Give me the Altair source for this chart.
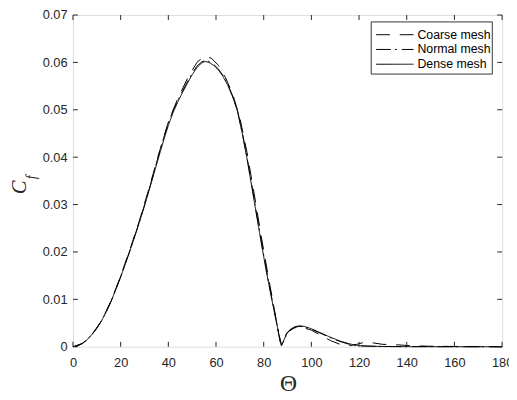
import altair as alt
import pandas as pd

# ---------------- data ----------------
series_names = ["Coarse mesh", "Normal mesh", "Dense mesh"]

theta_dense = [0, 2, 4, 6, 8, 10, 12, 14, 16, 18, 20, 22, 24, 26, 28, 30, 32, 34, 36, 38, 40,
               42, 44, 46, 48, 50, 52, 54, 55.5, 57, 59, 61, 63, 65, 67, 69, 71, 73, 75, 77,
               79, 81, 83, 85, 86.5, 87.4, 88.3, 89.5, 91, 93, 95, 97, 100, 104, 108, 112,
               116, 120, 125, 130, 140, 160, 180]
cf_dense = [0, 0.0002, 0.0007, 0.0015, 0.0026, 0.0039, 0.0055, 0.0074, 0.0096, 0.0121, 0.0147,
            0.0175, 0.0204, 0.0234, 0.0265, 0.0297, 0.0331, 0.0366, 0.0401, 0.0435, 0.0467,
            0.0494, 0.0517, 0.0537, 0.0556, 0.0574, 0.0589, 0.0599, 0.0602, 0.0600, 0.0594,
            0.0584, 0.0570, 0.0551, 0.0527, 0.0497, 0.0450, 0.0397, 0.0338, 0.0278, 0.0219,
            0.0162, 0.0110, 0.0060, 0.0022, 0.0002, 0.0012, 0.0026, 0.0036, 0.0042, 0.0044,
            0.0043, 0.0038, 0.0029, 0.0020, 0.0012, 0.0006, 0.0002, 0.0001, 0.00005, 0.00002,
            0.00001, 0]

theta_normal = [0, 2, 4, 6, 8, 10, 12, 14, 16, 18, 20, 22, 24, 26, 28, 30, 32, 34, 36, 38, 40,
                42, 44, 46, 48, 50, 52, 54, 55.5, 57, 59, 61, 63, 65, 67, 69, 71, 73, 75, 77,
                79, 81, 83, 85, 86.5, 87.5, 88.4, 89.5, 91, 93, 95, 97, 100, 104, 108, 112,
                116, 120, 125, 130, 140, 160, 180]
cf_normal = [0, 0.0002, 0.0007, 0.0015, 0.0026, 0.0039, 0.0055, 0.0074, 0.0096, 0.0121, 0.0148,
             0.0176, 0.0205, 0.0235, 0.0266, 0.0299, 0.0333, 0.0369, 0.0405, 0.0440, 0.0472,
             0.0499, 0.0520, 0.0540, 0.0559, 0.0577, 0.0592, 0.0601, 0.0604, 0.0602, 0.0596,
             0.0586, 0.0572, 0.0553, 0.0529, 0.0499, 0.0453, 0.0400, 0.0341, 0.0281, 0.0222,
             0.0165, 0.0112, 0.0062, 0.0024, 0.0003, 0.0012, 0.0025, 0.0035, 0.0041, 0.0043,
             0.0042, 0.0037, 0.0028, 0.0019, 0.0011, 0.0005, 0.0002, 0.0001, 0.00005, 0.00002,
             0.00001, 0]

theta_coarse = [0, 4, 8, 12, 16, 20, 24, 28, 32, 36, 40, 44, 48, 52, 55, 58, 61, 64, 67, 70,
                73, 76, 79, 82, 84, 86, 87, 88, 90, 93, 96, 100, 104, 108, 112, 116, 119, 122,
                126, 130, 136, 142, 150, 165, 180]
cf_coarse = [0, 0.0007, 0.0026, 0.0055, 0.0097, 0.0149, 0.0207, 0.0268, 0.0336, 0.0407, 0.0474,
             0.0524, 0.0566, 0.0600, 0.0613, 0.0609, 0.0594, 0.0568, 0.0533, 0.0483, 0.0410,
             0.0323, 0.0232, 0.0146, 0.0092, 0.0035, 0.0008, 0.0015, 0.0031, 0.0040, 0.0041,
             0.0035, 0.0024, 0.0013, 0.0005, 0.0002, 0.0005, 0.0009, 0.0008, 0.0005, 0.0004,
             0.0002, 0.0001, 0.00003, 0]

x_ticks = [0, 20, 40, 60, 80, 100, 120, 140, 160, 180]
y_ticks = [0, 0.01, 0.02, 0.03, 0.04, 0.05, 0.06, 0.07]

# ---------------- styles ----------------
W, H = 436, 337
AX = "#262626"
SERIF = "Liberation Serif, Times New Roman, Times, serif"
SANS = "Liberation Sans, Arial, Helvetica, sans-serif"
dash_range = [[14, 10], [15, 4, 2, 5], [1, 0]]
width_range = [1.0, 1.0, 1.3]

dash_scale = alt.Scale(domain=series_names, range=dash_range)
width_scale = alt.Scale(domain=series_names, range=width_range)
x_scale = alt.Scale(domain=[0, 180], nice=False, zero=False)
y_scale = alt.Scale(domain=[0, 0.07], nice=False, zero=False)

xa = alt.Axis(values=x_ticks, ticks=False, domain=False, grid=False, title=None,
              labelFont=SANS, labelFontSize=13, labelColor=AX,
              labelPadding=10, labelFlush=False)
ya = alt.Axis(values=y_ticks, ticks=False, domain=False, grid=False, title=None,
              format="~g", labelFont=SANS, labelFontSize=13,
              labelColor=AX, labelPadding=6, labelFlush=False)

frames = []
for name, th, cf in [("Coarse mesh", theta_coarse, cf_coarse),
                     ("Normal mesh", theta_normal, cf_normal),
                     ("Dense mesh", theta_dense, cf_dense)]:
    frames.append(pd.DataFrame({"theta": th, "cf": cf, "series": name}))


def line_layer(df):
    return alt.Chart(df).mark_line(color="black").encode(
        x=alt.X("theta:Q", scale=x_scale, axis=xa),
        y=alt.Y("cf:Q", scale=y_scale, axis=ya),
        strokeDash=alt.StrokeDash("series:N", scale=dash_scale, legend=None),
        strokeWidth=alt.StrokeWidth("series:N", scale=width_scale, legend=None),
    )


lines = [line_layer(f) for f in frames]

xt = pd.DataFrame({"t": x_ticks})
yt = pd.DataFrame({"t": y_ticks})
tick_bottom = alt.Chart(xt).mark_rule(color=AX, strokeWidth=1).encode(
    x=alt.X("t:Q", scale=x_scale, axis=xa), y=alt.value(H), y2=alt.value(H - 5))
tick_top = alt.Chart(xt).mark_rule(color=AX, strokeWidth=1).encode(
    x=alt.X("t:Q", scale=x_scale, axis=xa), y=alt.value(0), y2=alt.value(5))
tick_left = alt.Chart(yt).mark_rule(color=AX, strokeWidth=1).encode(
    y=alt.Y("t:Q", scale=y_scale, axis=ya), x=alt.value(0), x2=alt.value(5))
tick_right = alt.Chart(yt).mark_rule(color=AX, strokeWidth=1).encode(
    y=alt.Y("t:Q", scale=y_scale, axis=ya), x=alt.value(W), x2=alt.value(W - 5))

one = pd.DataFrame({"a": [0]})
ytitle_c = alt.Chart(one).mark_text(text="C", font=SERIF, fontStyle="italic",
                                    fontSize=21, angle=270, align="center",
                                    baseline="middle", color=AX).encode(
    x=alt.value(-54), y=alt.value(175))
ytitle_f = alt.Chart(one).mark_text(text="f", font=SERIF, fontStyle="italic",
                                    fontSize=14, angle=270, align="center",
                                    baseline="middle", color=AX).encode(
    x=alt.value(-42), y=alt.value(165))
xtitle = alt.Chart(one).mark_text(text="Θ", font=SERIF, fontSize=24,
                                  align="center", baseline="middle", color=AX).encode(
    x=alt.value(219), y=alt.value(375))

main = alt.layer(*lines, tick_bottom, tick_top, tick_left, tick_right,
                 ytitle_c, ytitle_f, xtitle)

# ---------------- legend ----------------
leg_df = pd.DataFrame({"series": series_names})
leg_y = alt.Y("series:N", scale=alt.Scale(type="point", domain=series_names,
                                          range=[20, 50], padding=0), axis=None)
leg_box = alt.Chart(one).mark_rect(fill="white", stroke="black", strokeWidth=0.8).encode(
    x=alt.value(303), x2=alt.value(426), y=alt.value(7), y2=alt.value(60))
leg_lines = alt.Chart(leg_df).mark_rule(color="black").encode(
    x=alt.value(308), x2=alt.value(346), y=leg_y,
    strokeDash=alt.StrokeDash("series:N", scale=dash_scale, legend=None),
    strokeWidth=alt.StrokeWidth("series:N", scale=width_scale, legend=None))
leg_text = alt.Chart(leg_df).mark_text(align="left", baseline="middle", font=SANS,
                                       fontSize=12.5, color="black").encode(
    x=alt.value(350), y=leg_y, text="series:N")
legend = alt.layer(leg_box, leg_lines, leg_text)

chart = alt.layer(main, legend).resolve_scale(y="independent").properties(
    width=W, height=H,
    autosize=alt.AutoSizeParams(type="none"),
    padding={"left": 66, "top": 4, "right": 7, "bottom": 51},
).configure_view(stroke=AX, strokeWidth=1).configure(background="white")

chart.save("out.html", embed_options={"renderer": "svg", "actions": False})
